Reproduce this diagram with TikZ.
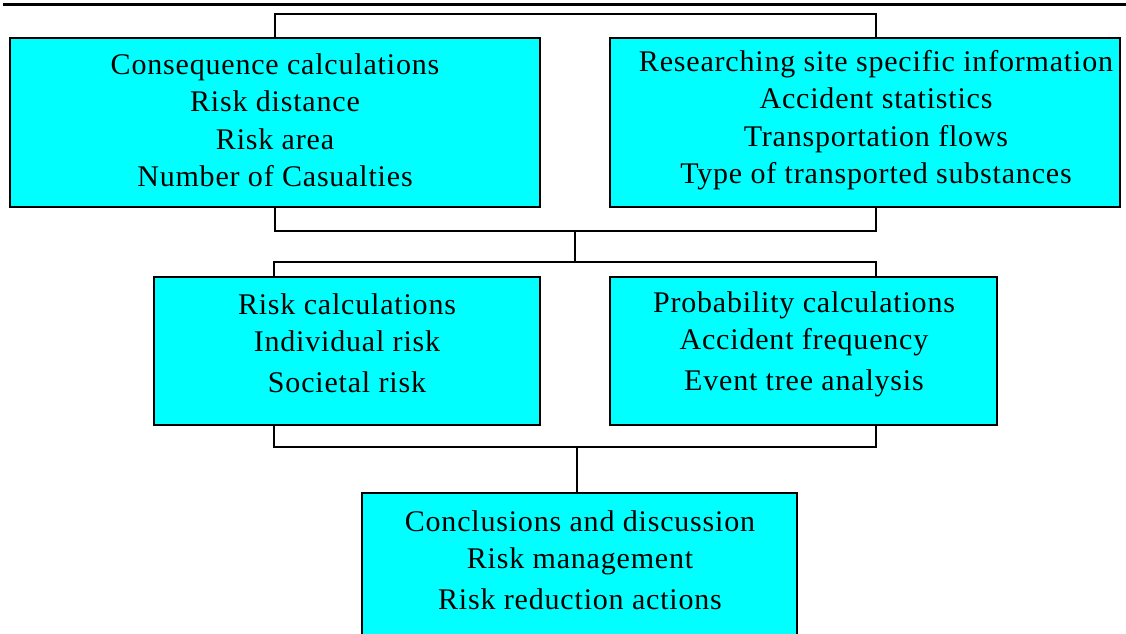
\documentclass[tikz,border=0pt]{standalone}
\usepackage{fontspec}
\setmainfont[LetterSpace=2.7]{Liberation Serif}
\usetikzlibrary{calc}
\definecolor{boxcyan}{RGB}{0,255,255}
\begin{document}
\begin{tikzpicture}[x=1pt,y=-1pt,
  box/.style={draw=black, line width=2pt, fill=boxcyan, inner sep=0pt},
  txt/.style={align=center, font=\fontsize{30}{37.5}\selectfont, inner sep=0pt},
  conn/.style={draw=black, line width=1.8pt}]
\useasboundingbox (0,0) rectangle (1126,633);
\draw[line width=3pt] (3,4) -- (1126,4);
% boxes
\node[box, minimum width=530, minimum height=169] (b1) at (275,122.5) {};
\node[box, minimum width=510, minimum height=169] (b2) at (865,122.5) {};
\node[box, minimum width=386, minimum height=148] (b3) at (347,351) {};
\node[box, minimum width=387, minimum height=148] (b4) at (803.5,351) {};
\node[box, minimum width=435, minimum height=180] (b5) at (579.5,583) {};
% texts
\node[txt] (t1) at (275,120) {Consequence calculations\\Risk distance\\Risk area\\Number of Casualties};
\node[txt] (t2) at (876,120) {Researching site specific information\\Accident statistics\\Transportation flows\\Type of transported substances};
\node[txt] (t3) at (347,343) {Risk calculations\\Individual risk\\[3pt]Societal risk};
\node[txt] (t4) at (804,344) {Probability calculations\\Accident frequency\\[3pt]Event tree analysis};
\node[txt] (t5) at (580,560) {Conclusions and discussion\\Risk management\\[3pt]Risk reduction actions};
% junctions
\coordinate (j0) at (575,14);
\coordinate (j1) at (575,231);
\coordinate (j2) at (575,262);
\coordinate (j3) at (577,447);
% connectors
\draw[conn] (b1.north) |- (j0) -| ($(b2.north west)+(267,0)$);
\draw[conn] (b1.south) |- (j1) -| ($(b2.south west)+(267,0)$);
\draw[conn] (j1) -- (j2);
\draw[conn] ($(b3.north west)+(121,0)$) |- (j2) -| ($(b4.north west)+(267,0)$);
\draw[conn] ($(b3.south west)+(121,0)$) |- (j3) -| ($(b4.south west)+(267,0)$);
\draw[conn] (j3) -- (b5.north -| j3);
\end{tikzpicture}
\end{document}
